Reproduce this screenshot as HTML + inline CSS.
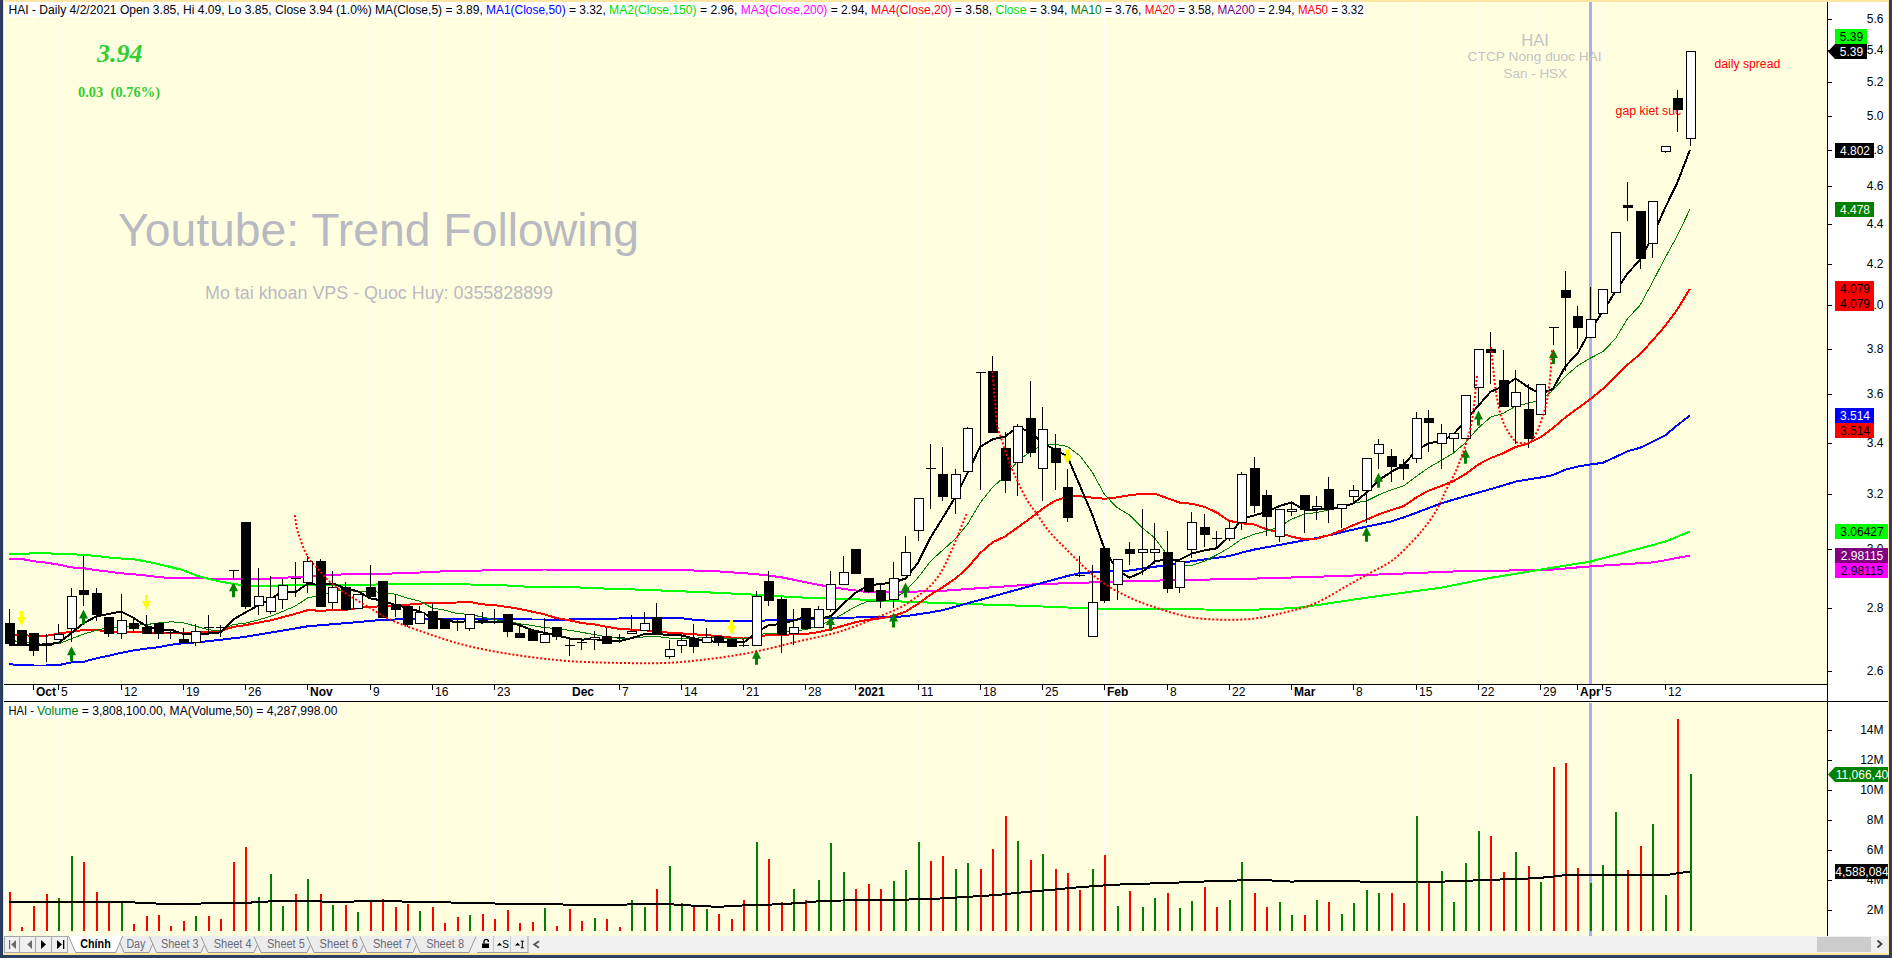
<!DOCTYPE html>
<html><head><meta charset="utf-8"><title>HAI chart</title>
<style>html,body{margin:0;padding:0;width:1892px;height:958px;overflow:hidden;background:#2d3e5f;}</style>
</head><body>
<svg width="1892" height="958" viewBox="0 0 1892 958" style="display:block">
<rect width="1892" height="958" fill="#2d3e5f"/>
<rect x="3" y="0" width="1886" height="955" fill="#ffe7a3"/>
<rect x="4" y="2" width="1824" height="683" fill="#ffffe0"/>
<rect x="4" y="702" width="1824" height="234" fill="#ffffe0"/>
<rect x="1828" y="2" width="60" height="934" fill="#ffffff"/>
<rect x="4" y="2" width="1" height="934" fill="#ffffff"/>
<rect x="2" y="0" width="1" height="958" fill="#22355a"/>
<rect x="4" y="685" width="1824" height="16" fill="#ffffff"/>
<rect x="33" y="2" width="1" height="682" fill="#ffffff"/>
<rect x="33" y="702" width="1" height="234" fill="#ffffff"/>
<line x1="58.5" y1="2" x2="58.5" y2="684" stroke="#ffffff" stroke-width="1" stroke-dasharray="1 1"/>
<line x1="58.5" y1="702" x2="58.5" y2="936" stroke="#ffffff" stroke-width="1" stroke-dasharray="1 1"/>
<line x1="121.5" y1="2" x2="121.5" y2="684" stroke="#ffffff" stroke-width="1" stroke-dasharray="1 1"/>
<line x1="121.5" y1="702" x2="121.5" y2="936" stroke="#ffffff" stroke-width="1" stroke-dasharray="1 1"/>
<line x1="183.5" y1="2" x2="183.5" y2="684" stroke="#ffffff" stroke-width="1" stroke-dasharray="1 1"/>
<line x1="183.5" y1="702" x2="183.5" y2="936" stroke="#ffffff" stroke-width="1" stroke-dasharray="1 1"/>
<line x1="245.5" y1="2" x2="245.5" y2="684" stroke="#ffffff" stroke-width="1" stroke-dasharray="1 1"/>
<line x1="245.5" y1="702" x2="245.5" y2="936" stroke="#ffffff" stroke-width="1" stroke-dasharray="1 1"/>
<rect x="307" y="2" width="1" height="682" fill="#ffffff"/>
<rect x="307" y="702" width="1" height="234" fill="#ffffff"/>
<line x1="370.5" y1="2" x2="370.5" y2="684" stroke="#ffffff" stroke-width="1" stroke-dasharray="1 1"/>
<line x1="370.5" y1="702" x2="370.5" y2="936" stroke="#ffffff" stroke-width="1" stroke-dasharray="1 1"/>
<line x1="432.5" y1="2" x2="432.5" y2="684" stroke="#ffffff" stroke-width="1" stroke-dasharray="1 1"/>
<line x1="432.5" y1="702" x2="432.5" y2="936" stroke="#ffffff" stroke-width="1" stroke-dasharray="1 1"/>
<line x1="494.5" y1="2" x2="494.5" y2="684" stroke="#ffffff" stroke-width="1" stroke-dasharray="1 1"/>
<line x1="494.5" y1="702" x2="494.5" y2="936" stroke="#ffffff" stroke-width="1" stroke-dasharray="1 1"/>
<line x1="556.5" y1="2" x2="556.5" y2="684" stroke="#ffffff" stroke-width="1" stroke-dasharray="1 1"/>
<line x1="556.5" y1="702" x2="556.5" y2="936" stroke="#ffffff" stroke-width="1" stroke-dasharray="1 1"/>
<rect x="569" y="2" width="1" height="682" fill="#ffffff"/>
<rect x="569" y="702" width="1" height="234" fill="#ffffff"/>
<line x1="619.5" y1="2" x2="619.5" y2="684" stroke="#ffffff" stroke-width="1" stroke-dasharray="1 1"/>
<line x1="619.5" y1="702" x2="619.5" y2="936" stroke="#ffffff" stroke-width="1" stroke-dasharray="1 1"/>
<line x1="681.5" y1="2" x2="681.5" y2="684" stroke="#ffffff" stroke-width="1" stroke-dasharray="1 1"/>
<line x1="681.5" y1="702" x2="681.5" y2="936" stroke="#ffffff" stroke-width="1" stroke-dasharray="1 1"/>
<line x1="743.5" y1="2" x2="743.5" y2="684" stroke="#ffffff" stroke-width="1" stroke-dasharray="1 1"/>
<line x1="743.5" y1="702" x2="743.5" y2="936" stroke="#ffffff" stroke-width="1" stroke-dasharray="1 1"/>
<line x1="805.5" y1="2" x2="805.5" y2="684" stroke="#ffffff" stroke-width="1" stroke-dasharray="1 1"/>
<line x1="805.5" y1="702" x2="805.5" y2="936" stroke="#ffffff" stroke-width="1" stroke-dasharray="1 1"/>
<rect x="855" y="2" width="1" height="682" fill="#ffffff"/>
<rect x="855" y="702" width="1" height="234" fill="#ffffff"/>
<line x1="918.5" y1="2" x2="918.5" y2="684" stroke="#ffffff" stroke-width="1" stroke-dasharray="1 1"/>
<line x1="918.5" y1="702" x2="918.5" y2="936" stroke="#ffffff" stroke-width="1" stroke-dasharray="1 1"/>
<line x1="980.5" y1="2" x2="980.5" y2="684" stroke="#ffffff" stroke-width="1" stroke-dasharray="1 1"/>
<line x1="980.5" y1="702" x2="980.5" y2="936" stroke="#ffffff" stroke-width="1" stroke-dasharray="1 1"/>
<line x1="1042.5" y1="2" x2="1042.5" y2="684" stroke="#ffffff" stroke-width="1" stroke-dasharray="1 1"/>
<line x1="1042.5" y1="702" x2="1042.5" y2="936" stroke="#ffffff" stroke-width="1" stroke-dasharray="1 1"/>
<rect x="1104" y="2" width="1" height="682" fill="#ffffff"/>
<rect x="1104" y="702" width="1" height="234" fill="#ffffff"/>
<line x1="1167.5" y1="2" x2="1167.5" y2="684" stroke="#ffffff" stroke-width="1" stroke-dasharray="1 1"/>
<line x1="1167.5" y1="702" x2="1167.5" y2="936" stroke="#ffffff" stroke-width="1" stroke-dasharray="1 1"/>
<line x1="1229.5" y1="2" x2="1229.5" y2="684" stroke="#ffffff" stroke-width="1" stroke-dasharray="1 1"/>
<line x1="1229.5" y1="702" x2="1229.5" y2="936" stroke="#ffffff" stroke-width="1" stroke-dasharray="1 1"/>
<rect x="1291" y="2" width="1" height="682" fill="#ffffff"/>
<rect x="1291" y="702" width="1" height="234" fill="#ffffff"/>
<line x1="1353.5" y1="2" x2="1353.5" y2="684" stroke="#ffffff" stroke-width="1" stroke-dasharray="1 1"/>
<line x1="1353.5" y1="702" x2="1353.5" y2="936" stroke="#ffffff" stroke-width="1" stroke-dasharray="1 1"/>
<line x1="1416.5" y1="2" x2="1416.5" y2="684" stroke="#ffffff" stroke-width="1" stroke-dasharray="1 1"/>
<line x1="1416.5" y1="702" x2="1416.5" y2="936" stroke="#ffffff" stroke-width="1" stroke-dasharray="1 1"/>
<line x1="1478.5" y1="2" x2="1478.5" y2="684" stroke="#ffffff" stroke-width="1" stroke-dasharray="1 1"/>
<line x1="1478.5" y1="702" x2="1478.5" y2="936" stroke="#ffffff" stroke-width="1" stroke-dasharray="1 1"/>
<line x1="1540.5" y1="2" x2="1540.5" y2="684" stroke="#ffffff" stroke-width="1" stroke-dasharray="1 1"/>
<line x1="1540.5" y1="702" x2="1540.5" y2="936" stroke="#ffffff" stroke-width="1" stroke-dasharray="1 1"/>
<rect x="1577" y="2" width="1" height="682" fill="#ffffff"/>
<rect x="1577" y="702" width="1" height="234" fill="#ffffff"/>
<line x1="1602.5" y1="2" x2="1602.5" y2="684" stroke="#ffffff" stroke-width="1" stroke-dasharray="1 1"/>
<line x1="1602.5" y1="702" x2="1602.5" y2="936" stroke="#ffffff" stroke-width="1" stroke-dasharray="1 1"/>
<line x1="1665.5" y1="2" x2="1665.5" y2="684" stroke="#ffffff" stroke-width="1" stroke-dasharray="1 1"/>
<line x1="1665.5" y1="702" x2="1665.5" y2="936" stroke="#ffffff" stroke-width="1" stroke-dasharray="1 1"/>
<rect x="1589" y="2" width="3" height="682" fill="#aaaaff"/>
<rect x="1589" y="703" width="3" height="233" fill="#aaaaff"/>
<text x="118" y="246" font-family="Liberation Sans, sans-serif" font-size="46" fill="#b9b9c1" textLength="521" lengthAdjust="spacingAndGlyphs">Youtube: Trend Following</text>
<text x="205" y="299" font-family="Liberation Sans, sans-serif" font-size="18" fill="#b9b9c1" textLength="348" lengthAdjust="spacingAndGlyphs">Mo tai khoan VPS - Quoc Huy: 0355828899</text>
<text x="1535" y="45.5" font-family="Liberation Sans, sans-serif" font-size="16.5" fill="#c3c3c3" text-anchor="middle">HAI</text>
<text x="1467.6" y="60.7" font-family="Liberation Sans, sans-serif" font-size="12.8" fill="#c3c3c3" textLength="134" lengthAdjust="spacingAndGlyphs">CTCP Nong duoc HAI</text>
<text x="1503.6" y="77.7" font-family="Liberation Sans, sans-serif" font-size="12.8" fill="#c3c3c3" textLength="63.4" lengthAdjust="spacingAndGlyphs">San - HSX</text>
<text x="97" y="62" font-family="Liberation Serif, serif" font-weight="bold" font-style="italic" font-size="25.5" fill="#33cc33" textLength="45.5" lengthAdjust="spacingAndGlyphs">3.94</text>
<text x="78" y="97" font-family="Liberation Serif, serif" font-weight="bold" font-size="14" fill="#33cc33" xml:space="preserve" textLength="82" lengthAdjust="spacingAndGlyphs">0.03  (0.76%)</text>
<text x="1714.5" y="67.7" font-family="Liberation Sans, sans-serif" font-size="12" fill="#ff0000" textLength="65.7" lengthAdjust="spacingAndGlyphs">daily spread</text>
<text x="1615.6" y="114.7" font-family="Liberation Sans, sans-serif" font-size="12" fill="#ff0000" textLength="65.6" lengthAdjust="spacingAndGlyphs">gap kiet suc</text>
<polyline points="8.9,558.9 21.4,558.9 33.8,561.3 46.3,562.7 58.7,564.6 71.2,567.4 83.6,568.2 96.1,570.2 108.5,571.6 121.0,573.3 133.4,574.2 145.9,575.5 158.3,577.0 170.8,578.1 183.2,578.2 195.7,578.3 208.1,578.5 220.6,578.6 233.0,578.8 245.5,578.9 257.9,579.1 270.4,578.5 282.8,577.8 295.3,577.1 307.7,576.4 320.2,575.7 332.7,575.0 345.1,574.3 357.6,574.1 370.0,574.0 382.5,573.8 394.9,573.4 407.4,573.0 419.8,572.5 432.3,571.9 444.7,571.3 457.2,571.0 469.6,570.8 482.1,570.5 494.5,570.3 507.0,570.1 519.4,569.9 531.9,569.7 544.3,569.5 556.8,569.6 569.2,569.7 581.7,569.8 594.1,569.9 606.6,570.0 619.0,570.0 631.5,570.0 643.9,570.0 656.4,570.0 668.9,570.0 681.3,570.0 693.8,570.5 706.2,571.0 718.7,571.4 731.1,572.3 743.6,573.2 756.0,574.1 768.5,575.6 780.9,577.2 793.4,579.7 805.8,582.2 818.3,584.7 830.7,587.1 843.2,588.8 855.6,590.5 868.1,592.2 880.5,592.3 893.0,592.0 905.4,591.7 917.9,591.5 930.3,591.2 942.8,590.8 955.2,589.9 967.7,589.0 980.1,588.1 992.6,587.3 1005.1,586.4 1017.5,585.5 1030.0,584.6 1042.4,584.0 1054.9,583.6 1067.3,583.2 1079.8,582.8 1092.2,582.4 1104.7,582.0 1117.1,581.6 1129.6,581.2 1142.0,580.9 1154.5,580.6 1166.9,580.4 1179.4,580.1 1191.8,579.9 1204.3,579.6 1216.7,579.4 1229.2,579.1 1241.6,578.8 1254.1,578.6 1266.5,578.2 1279.0,577.8 1291.4,577.5 1303.9,577.1 1316.3,576.7 1328.8,576.4 1341.2,576.0 1353.7,575.5 1366.2,575.0 1378.6,574.5 1391.1,574.0 1403.5,573.5 1416.0,573.0 1428.4,572.5 1440.9,572.0 1453.3,571.5 1465.8,571.1 1478.2,570.9 1490.7,570.7 1503.1,570.6 1515.6,570.4 1528.0,570.3 1540.5,570.1 1552.9,569.5 1565.4,568.5 1577.8,567.4 1590.3,566.4 1602.7,565.6 1615.2,564.8 1627.6,564.0 1640.1,563.2 1652.5,562.4 1665.0,560.3 1677.4,557.9 1689.9,555.5" fill="none" stroke="#ff00ff" stroke-width="2" stroke-linejoin="round" shape-rendering="crispEdges" />
<polyline points="8.9,554.1 21.4,554.1 33.8,553.2 46.3,553.2 58.7,554.0 71.2,554.1 83.6,555.0 96.1,555.9 108.5,557.5 121.0,558.5 133.4,559.2 145.9,561.5 158.3,564.0 170.8,567.1 183.2,570.1 195.7,575.3 208.1,578.8 220.6,581.6 233.0,583.9 245.5,585.4 257.9,585.9 270.4,585.7 282.8,585.4 295.3,585.1 307.7,585.0 320.2,584.9 332.7,584.9 345.1,584.8 357.6,584.8 370.0,584.7 382.5,584.3 394.9,584.0 407.4,583.6 419.8,583.8 432.3,583.9 444.7,584.1 457.2,584.3 469.6,584.5 482.1,584.6 494.5,584.9 507.0,585.5 519.4,586.1 531.9,587.2 544.3,587.1 556.8,587.1 569.2,587.0 581.7,587.6 594.1,588.1 606.6,588.6 619.0,589.0 631.5,589.4 643.9,589.8 656.4,590.3 668.9,590.8 681.3,591.3 693.8,591.8 706.2,592.3 718.7,592.9 731.1,593.5 743.6,594.1 756.0,594.8 768.5,595.5 780.9,596.3 793.4,597.1 805.8,597.7 818.3,598.0 830.7,598.4 843.2,598.8 855.6,599.3 868.1,599.9 880.5,600.5 893.0,601.1 905.4,601.7 917.9,602.2 930.3,602.6 942.8,603.1 955.2,603.5 967.7,603.9 980.1,604.4 992.6,604.8 1005.1,605.2 1017.5,605.6 1030.0,606.1 1042.4,606.5 1054.9,607.0 1067.3,607.5 1079.8,608.0 1092.2,608.5 1104.7,608.8 1117.1,608.9 1129.6,609.0 1142.0,609.1 1154.5,609.1 1166.9,609.2 1179.4,609.3 1191.8,609.4 1204.3,609.5 1216.7,609.6 1229.2,609.7 1241.6,609.8 1254.1,609.7 1266.5,609.2 1279.0,608.7 1291.4,608.2 1303.9,607.1 1316.3,605.2 1328.8,603.3 1341.2,601.5 1353.7,599.6 1366.2,597.7 1378.6,596.0 1391.1,594.4 1403.5,592.7 1416.0,591.0 1428.4,589.4 1440.9,587.7 1453.3,585.2 1465.8,582.7 1478.2,580.2 1490.7,577.8 1503.1,575.8 1515.6,573.7 1528.0,571.6 1540.5,569.6 1552.9,567.6 1565.4,565.6 1577.8,563.6 1590.3,561.6 1602.7,558.3 1615.2,555.0 1627.6,551.7 1640.1,548.4 1652.5,545.1 1665.0,541.7 1677.4,536.7 1689.9,531.5" fill="none" stroke="#00ff00" stroke-width="2" stroke-linejoin="round" shape-rendering="crispEdges" />
<polyline points="8.9,664.0 21.4,665.4 33.8,665.5 46.3,665.5 58.7,665.1 71.2,662.4 83.6,661.8 96.1,658.4 108.5,655.8 121.0,652.9 133.4,650.4 145.9,648.6 158.3,647.2 170.8,644.8 183.2,643.2 195.7,642.4 208.1,641.2 220.6,639.8 233.0,638.3 245.5,636.8 257.9,634.7 270.4,632.6 282.8,630.5 295.3,628.4 307.7,626.3 320.2,625.2 332.7,624.2 345.1,623.2 357.6,622.1 370.0,621.0 382.5,619.8 394.9,619.5 407.4,619.4 419.8,619.3 432.3,619.2 444.7,619.1 457.2,619.0 469.6,619.1 482.1,619.2 494.5,619.3 507.0,619.3 519.4,619.4 531.9,619.5 544.3,619.5 556.8,619.5 569.2,619.5 581.7,619.0 594.1,618.8 606.6,618.6 619.0,618.5 631.5,618.3 643.9,618.1 656.4,618.0 668.9,618.0 681.3,618.2 693.8,619.7 706.2,620.6 718.7,620.7 731.1,620.8 743.6,620.9 756.0,620.8 768.5,620.4 780.9,620.1 793.4,619.7 805.8,619.2 818.3,618.5 830.7,617.8 843.2,617.6 855.6,617.5 868.1,617.4 880.5,617.2 893.0,617.1 905.4,616.2 917.9,614.3 930.3,612.4 942.8,610.2 955.2,606.8 967.7,603.3 980.1,599.9 992.6,596.5 1005.1,593.0 1017.5,589.6 1030.0,586.2 1042.4,582.8 1054.9,579.4 1067.3,576.0 1079.8,573.1 1092.2,572.4 1104.7,571.8 1117.1,571.1 1129.6,570.5 1142.0,568.7 1154.5,566.8 1166.9,565.0 1179.4,563.1 1191.8,561.2 1204.3,559.4 1216.7,557.8 1229.2,556.1 1241.6,552.7 1254.1,549.6 1266.5,547.3 1279.0,545.0 1291.4,542.7 1303.9,540.4 1316.3,538.0 1328.8,535.4 1341.2,532.4 1353.7,529.5 1366.2,526.7 1378.6,524.1 1391.1,521.5 1403.5,517.5 1416.0,512.9 1428.4,508.2 1440.9,503.5 1453.3,499.7 1465.8,496.1 1478.2,492.6 1490.7,489.1 1503.1,485.5 1515.6,481.6 1528.0,479.5 1540.5,477.5 1552.9,475.1 1565.4,469.7 1577.8,466.5 1590.3,464.5 1602.7,462.8 1615.2,457.2 1627.6,451.2 1640.1,447.8 1652.5,441.9 1665.0,435.5 1677.4,425.2 1689.9,415.5" fill="none" stroke="#0000ff" stroke-width="2" stroke-linejoin="round" shape-rendering="crispEdges" />
<polyline points="8.9,635.3 21.4,635.4 33.8,635.6 46.3,635.8 58.7,633.6 71.2,631.7 83.6,630.1 96.1,630.0 108.5,631.7 121.0,632.0 133.4,632.3 145.9,632.6 158.3,632.7 170.8,632.7 183.2,632.7 195.7,632.4 208.1,631.9 220.6,631.0 233.0,627.0 245.5,625.1 257.9,622.7 270.4,620.4 282.8,617.2 295.3,613.8 307.7,610.2 320.2,610.7 332.7,610.3 345.1,610.0 357.6,608.1 370.0,606.8 382.5,606.3 394.9,605.1 407.4,604.7 419.8,603.6 432.3,602.9 444.7,602.7 457.2,602.5 469.6,601.8 482.1,604.3 494.5,605.2 507.0,606.9 519.4,608.9 531.9,611.6 544.3,614.3 556.8,618.2 569.2,620.2 581.7,623.0 594.1,624.4 606.6,626.8 619.0,628.9 631.5,629.6 643.9,630.4 656.4,630.9 668.9,632.8 681.3,633.4 693.8,634.3 706.2,635.0 718.7,636.2 731.1,637.5 743.6,638.6 756.0,636.9 768.5,635.0 780.9,634.7 793.4,634.4 805.8,634.0 818.3,632.1 830.7,629.1 843.2,625.8 855.6,622.2 868.1,619.8 880.5,618.3 893.0,616.0 905.4,611.8 917.9,603.9 930.3,594.9 942.8,587.2 955.2,578.8 967.7,567.7 980.1,553.1 992.6,542.3 1005.1,536.4 1017.5,527.6 1030.0,518.6 1042.4,508.8 1054.9,500.9 1067.3,496.7 1079.8,496.3 1092.2,497.6 1104.7,498.8 1117.1,497.4 1129.6,495.2 1142.0,493.9 1154.5,493.7 1166.9,498.0 1179.4,502.5 1191.8,503.8 1204.3,506.8 1216.7,512.5 1229.2,520.9 1241.6,523.2 1254.1,524.5 1266.5,529.3 1279.0,532.3 1291.4,536.7 1303.9,539.2 1316.3,538.6 1328.8,535.3 1341.2,530.5 1353.7,525.0 1366.2,519.9 1378.6,514.4 1391.1,510.2 1403.5,506.2 1416.0,497.7 1428.4,490.7 1440.9,486.2 1453.3,481.2 1465.8,473.9 1478.2,464.6 1490.7,458.1 1503.1,453.2 1515.6,447.0 1528.0,443.6 1540.5,437.4 1552.9,428.1 1565.4,417.4 1577.8,408.3 1590.3,399.1 1602.7,389.0 1615.2,377.2 1627.6,364.6 1640.1,354.2 1652.5,340.6 1665.0,326.1 1677.4,309.4 1689.9,288.8" fill="none" stroke="#ff0000" stroke-width="2" stroke-linejoin="round" shape-rendering="crispEdges" />
<polyline points="8.9,640.0 21.4,641.9 33.8,643.6 46.3,644.4 58.7,643.8 71.2,638.8 83.6,634.1 96.1,630.4 108.5,627.5 121.0,627.0 133.4,625.5 145.9,624.6 158.3,623.0 170.8,621.8 183.2,622.7 195.7,626.2 208.1,629.7 220.6,631.0 233.0,624.6 245.5,623.1 257.9,620.0 270.4,616.3 282.8,611.4 295.3,606.0 307.7,597.9 320.2,595.4 332.7,591.4 345.1,589.5 357.6,591.8 370.0,590.9 382.5,592.9 394.9,594.1 407.4,598.0 419.8,601.3 432.3,608.0 444.7,610.1 457.2,613.7 469.6,614.3 482.1,617.0 494.5,619.7 507.0,621.0 519.4,623.8 531.9,625.4 544.3,627.6 556.8,628.5 569.2,630.3 581.7,632.3 594.1,634.6 606.6,636.7 619.0,638.3 631.5,638.3 643.9,636.9 656.4,636.4 668.9,638.0 681.3,638.3 693.8,638.2 706.2,637.6 718.7,637.9 731.1,638.2 743.6,639.0 756.0,635.5 768.5,633.0 780.9,633.0 793.4,630.8 805.8,629.6 818.3,625.9 830.7,620.6 843.2,613.8 855.6,606.5 868.1,601.1 880.5,601.4 893.0,599.3 905.4,591.1 917.9,577.8 930.3,561.5 942.8,550.1 955.2,538.9 967.7,523.9 980.1,502.9 992.6,487.3 1005.1,476.1 1017.5,461.4 1030.0,451.9 1042.4,445.1 1054.9,444.4 1067.3,446.4 1079.8,455.7 1092.2,472.1 1104.7,494.8 1117.1,507.6 1129.6,514.9 1142.0,527.6 1154.5,537.7 1166.9,554.4 1179.4,564.9 1191.8,565.5 1204.3,561.2 1216.7,554.9 1229.2,547.8 1241.6,539.1 1254.1,534.3 1266.5,531.0 1279.0,527.0 1291.4,519.3 1303.9,514.2 1316.3,512.6 1328.8,510.1 1341.2,506.7 1353.7,502.9 1366.2,501.2 1378.6,494.9 1391.1,489.9 1403.5,485.9 1416.0,476.6 1428.4,467.8 1440.9,460.6 1453.3,453.2 1465.8,442.3 1478.2,428.0 1490.7,417.1 1503.1,413.4 1515.6,406.2 1528.0,403.4 1540.5,399.9 1552.9,390.3 1565.4,376.3 1577.8,365.7 1590.3,358.1 1602.7,351.8 1615.2,339.0 1627.6,318.5 1640.1,305.2 1652.5,282.2 1665.0,258.1 1677.4,235.5 1689.9,209.4" fill="none" stroke="#008000" stroke-width="1" stroke-linejoin="round" shape-rendering="crispEdges" />
<polyline points="8.9,645.4 21.4,645.4 33.8,645.2 46.3,644.5 58.7,642.8 71.2,633.2 83.6,623.3 96.1,616.4 108.5,614.1 121.0,611.5 133.4,617.8 145.9,625.8 158.3,629.6 170.8,629.6 183.2,634.0 195.7,634.6 208.1,633.5 220.6,632.4 233.0,619.7 245.5,612.4 257.9,605.6 270.4,599.4 282.8,590.9 295.3,592.4 307.7,583.5 320.2,585.3 332.7,583.5 345.1,588.2 357.6,591.2 370.0,598.3 382.5,600.6 394.9,604.9 407.4,607.8 419.8,611.5 432.3,617.8 444.7,619.8 457.2,622.5 469.6,620.7 482.1,622.6 494.5,621.7 507.0,622.3 519.4,625.1 531.9,630.1 544.3,632.7 556.8,635.3 569.2,638.4 581.7,639.6 594.1,639.0 606.6,640.9 619.0,641.2 631.5,638.1 643.9,634.3 656.4,633.8 668.9,635.1 681.3,635.4 693.8,638.3 706.2,641.0 718.7,642.0 731.1,641.3 743.6,642.6 756.0,632.6 768.5,625.2 780.9,624.0 793.4,620.5 805.8,616.9 818.3,619.3 830.7,616.1 843.2,603.8 855.6,592.8 868.1,585.6 880.5,583.9 893.0,582.7 905.4,578.6 917.9,563.0 930.3,538.0 942.8,517.7 955.2,497.3 967.7,472.5 980.1,446.8 992.6,439.4 1005.1,436.4 1017.5,427.0 1030.0,431.7 1042.4,443.4 1054.9,449.4 1067.3,456.4 1079.8,485.3 1092.2,514.6 1104.7,549.6 1117.1,570.1 1129.6,577.6 1142.0,572.2 1154.5,561.6 1166.9,559.3 1179.4,559.8 1191.8,553.5 1204.3,550.4 1216.7,548.3 1229.2,536.5 1241.6,518.8 1254.1,515.4 1266.5,512.0 1279.0,506.2 1291.4,502.4 1303.9,509.6 1316.3,509.7 1328.8,508.2 1341.2,507.2 1353.7,503.3 1366.2,492.9 1378.6,480.3 1391.1,472.0 1403.5,465.0 1416.0,450.7 1428.4,443.3 1440.9,441.2 1453.3,434.7 1465.8,420.1 1478.2,405.8 1490.7,391.6 1503.1,386.5 1515.6,378.5 1528.0,387.0 1540.5,394.0 1552.9,388.9 1565.4,366.3 1577.8,353.1 1590.3,330.2 1602.7,311.5 1615.2,291.9 1627.6,273.3 1640.1,259.9 1652.5,236.7 1665.0,207.9 1677.4,182.6 1689.9,150.0" fill="none" stroke="#000000" stroke-width="2" stroke-linejoin="round" shape-rendering="crispEdges" />
<path d="M71.5,646.2 L76.0,655.2 L73.0,655.2 L73.0,661.2 L70.0,661.2 L70.0,655.2 L67.0,655.2 Z" fill="#008000"/>
<path d="M83.5,609.5 L88.0,618.5 L85.0,618.5 L85.0,624.5 L82.0,624.5 L82.0,618.5 L79.0,618.5 Z" fill="#008000"/>
<path d="M233.5,582.3 L238.0,591.3 L235.0,591.3 L235.0,597.3 L232.0,597.3 L232.0,591.3 L229.0,591.3 Z" fill="#008000"/>
<path d="M756.5,649.8 L761.0,658.8 L758.0,658.8 L758.0,664.8 L755.0,664.8 L755.0,658.8 L752.0,658.8 Z" fill="#008000"/>
<path d="M830.5,615.9 L835.0,624.9 L832.0,624.9 L832.0,630.9 L829.0,630.9 L829.0,624.9 L826.0,624.9 Z" fill="#008000"/>
<path d="M893.5,612.5 L898.0,621.5 L895.0,621.5 L895.0,627.5 L892.0,627.5 L892.0,621.5 L889.0,621.5 Z" fill="#008000"/>
<path d="M905.5,582.6 L910.0,591.6 L907.0,591.6 L907.0,597.6 L904.0,597.6 L904.0,591.6 L901.0,591.6 Z" fill="#008000"/>
<path d="M1366.5,526.7 L1371.0,535.7 L1368.0,535.7 L1368.0,541.7 L1365.0,541.7 L1365.0,535.7 L1362.0,535.7 Z" fill="#008000"/>
<path d="M1378.5,472.7 L1383.0,481.7 L1380.0,481.7 L1380.0,487.7 L1377.0,487.7 L1377.0,481.7 L1374.0,481.7 Z" fill="#008000"/>
<path d="M1465.5,448.7 L1470.0,457.7 L1467.0,457.7 L1467.0,463.7 L1464.0,463.7 L1464.0,457.7 L1461.0,457.7 Z" fill="#008000"/>
<path d="M1478.5,410.4 L1483.0,419.4 L1480.0,419.4 L1480.0,425.4 L1477.0,425.4 L1477.0,419.4 L1474.0,419.4 Z" fill="#008000"/>
<path d="M1553.5,349 L1558.0,358 L1555.0,358 L1555.0,364 L1552.0,364 L1552.0,358 L1549.0,358 Z" fill="#008000"/>
<path d="M21.5,626 L26.0,617 L23.0,617 L23.0,611 L20.0,611 L20.0,617 L17.0,617 Z" fill="#ffff00"/>
<path d="M146.5,610 L151.0,601 L148.0,601 L148.0,595 L145.0,595 L145.0,601 L142.0,601 Z" fill="#ffff00"/>
<path d="M731.5,635 L736.0,626 L733.0,626 L733.0,620 L730.0,620 L730.0,626 L727.0,626 Z" fill="#ffff00"/>
<path d="M1067.5,464.6 L1072.0,455.6 L1069.0,455.6 L1069.0,449.6 L1066.0,449.6 L1066.0,455.6 L1063.0,455.6 Z" fill="#ffff00"/>
<rect x="9" y="609" width="1" height="35" fill="#000"/>
<rect x="5" y="623" width="10" height="21" fill="#000"/>
<rect x="21" y="630" width="1" height="16" fill="#000"/>
<rect x="17" y="630" width="10" height="14" fill="#000"/>
<rect x="33" y="633" width="1" height="23" fill="#000"/>
<rect x="29" y="633" width="10" height="18" fill="#000"/>
<rect x="46" y="634" width="1" height="28" fill="#000"/>
<rect x="42" y="643" width="10" height="3" fill="#000"/>
<rect x="58" y="624" width="1" height="16" fill="#000"/>
<rect x="54" y="634" width="10" height="6" fill="#000"/>
<rect x="55" y="635" width="8" height="4" fill="#fff"/>
<rect x="71" y="588" width="1" height="54" fill="#000"/>
<rect x="67" y="596" width="10" height="33" fill="#000"/>
<rect x="68" y="597" width="8" height="31" fill="#fff"/>
<rect x="83" y="556" width="1" height="50" fill="#000"/>
<rect x="79" y="590" width="10" height="5" fill="#000"/>
<rect x="96" y="588" width="1" height="33" fill="#000"/>
<rect x="92" y="593" width="10" height="22" fill="#000"/>
<rect x="108" y="617" width="1" height="20" fill="#000"/>
<rect x="104" y="617" width="10" height="17" fill="#000"/>
<rect x="121" y="594" width="1" height="45" fill="#000"/>
<rect x="117" y="620" width="10" height="14" fill="#000"/>
<rect x="118" y="621" width="8" height="12" fill="#fff"/>
<rect x="133" y="619" width="1" height="14" fill="#000"/>
<rect x="129" y="623" width="10" height="6" fill="#000"/>
<rect x="146" y="615" width="1" height="19" fill="#000"/>
<rect x="142" y="627" width="10" height="7" fill="#000"/>
<rect x="158" y="623" width="1" height="16" fill="#000"/>
<rect x="154" y="623" width="10" height="11" fill="#000"/>
<rect x="170" y="630" width="1" height="9" fill="#000"/>
<rect x="166" y="632" width="10" height="1" fill="#000"/>
<rect x="183" y="628" width="1" height="15" fill="#000"/>
<rect x="179" y="639" width="10" height="4" fill="#000"/>
<rect x="195" y="624" width="1" height="22" fill="#000"/>
<rect x="191" y="631" width="10" height="12" fill="#000"/>
<rect x="192" y="632" width="8" height="10" fill="#fff"/>
<rect x="208" y="615" width="1" height="20" fill="#000"/>
<rect x="204" y="627" width="10" height="1" fill="#000"/>
<rect x="220" y="625" width="1" height="12" fill="#000"/>
<rect x="216" y="627" width="10" height="1" fill="#000"/>
<rect x="233" y="570" width="1" height="9" fill="#000"/>
<rect x="229" y="570" width="10" height="1" fill="#000"/>
<rect x="245" y="522" width="1" height="87" fill="#000"/>
<rect x="241" y="522" width="10" height="85" fill="#000"/>
<rect x="258" y="568" width="1" height="47" fill="#000"/>
<rect x="254" y="596" width="10" height="10" fill="#000"/>
<rect x="255" y="597" width="8" height="8" fill="#fff"/>
<rect x="270" y="576" width="1" height="38" fill="#000"/>
<rect x="266" y="597" width="10" height="15" fill="#000"/>
<rect x="267" y="598" width="8" height="13" fill="#fff"/>
<rect x="282" y="579" width="1" height="30" fill="#000"/>
<rect x="278" y="585" width="10" height="15" fill="#000"/>
<rect x="279" y="586" width="8" height="13" fill="#fff"/>
<rect x="295" y="562" width="1" height="35" fill="#000"/>
<rect x="291" y="578" width="10" height="1" fill="#000"/>
<rect x="307" y="556" width="1" height="37" fill="#000"/>
<rect x="303" y="561" width="10" height="22" fill="#000"/>
<rect x="304" y="562" width="8" height="20" fill="#fff"/>
<rect x="320" y="559" width="1" height="48" fill="#000"/>
<rect x="316" y="561" width="10" height="46" fill="#000"/>
<rect x="332" y="571" width="1" height="38" fill="#000"/>
<rect x="328" y="587" width="10" height="16" fill="#000"/>
<rect x="329" y="588" width="8" height="14" fill="#fff"/>
<rect x="345" y="582" width="1" height="28" fill="#000"/>
<rect x="341" y="587" width="10" height="23" fill="#000"/>
<rect x="357" y="594" width="1" height="15" fill="#000"/>
<rect x="353" y="594" width="10" height="15" fill="#000"/>
<rect x="354" y="595" width="8" height="13" fill="#fff"/>
<rect x="370" y="565" width="1" height="32" fill="#000"/>
<rect x="366" y="587" width="10" height="10" fill="#000"/>
<rect x="382" y="581" width="1" height="37" fill="#000"/>
<rect x="378" y="581" width="10" height="37" fill="#000"/>
<rect x="395" y="594" width="1" height="23" fill="#000"/>
<rect x="391" y="604" width="10" height="6" fill="#000"/>
<rect x="407" y="606" width="1" height="21" fill="#000"/>
<rect x="403" y="606" width="10" height="19" fill="#000"/>
<rect x="419" y="606" width="1" height="18" fill="#000"/>
<rect x="415" y="612" width="10" height="12" fill="#000"/>
<rect x="416" y="613" width="8" height="10" fill="#fff"/>
<rect x="432" y="603" width="1" height="26" fill="#000"/>
<rect x="428" y="611" width="10" height="18" fill="#000"/>
<rect x="444" y="619" width="1" height="10" fill="#000"/>
<rect x="440" y="619" width="10" height="10" fill="#000"/>
<rect x="457" y="619" width="1" height="12" fill="#000"/>
<rect x="453" y="622" width="10" height="1" fill="#000"/>
<rect x="469" y="614" width="1" height="17" fill="#000"/>
<rect x="465" y="614" width="10" height="15" fill="#000"/>
<rect x="466" y="615" width="8" height="13" fill="#fff"/>
<rect x="482" y="612" width="1" height="11" fill="#000"/>
<rect x="478" y="620" width="10" height="1" fill="#000"/>
<rect x="494" y="609" width="1" height="15" fill="#000"/>
<rect x="490" y="622" width="10" height="1" fill="#000"/>
<rect x="507" y="614" width="1" height="23" fill="#000"/>
<rect x="503" y="614" width="10" height="18" fill="#000"/>
<rect x="519" y="626" width="1" height="12" fill="#000"/>
<rect x="515" y="633" width="10" height="5" fill="#000"/>
<rect x="532" y="630" width="1" height="11" fill="#000"/>
<rect x="528" y="630" width="10" height="11" fill="#000"/>
<rect x="544" y="618" width="1" height="25" fill="#000"/>
<rect x="540" y="634" width="10" height="9" fill="#000"/>
<rect x="541" y="635" width="8" height="7" fill="#fff"/>
<rect x="556" y="627" width="1" height="13" fill="#000"/>
<rect x="552" y="627" width="10" height="10" fill="#000"/>
<rect x="569" y="639" width="1" height="17" fill="#000"/>
<rect x="565" y="645" width="10" height="1" fill="#000"/>
<rect x="581" y="638" width="1" height="12" fill="#000"/>
<rect x="577" y="642" width="10" height="1" fill="#000"/>
<rect x="594" y="631" width="1" height="19" fill="#000"/>
<rect x="590" y="637" width="10" height="3" fill="#000"/>
<rect x="591" y="638" width="8" height="1" fill="#fff"/>
<rect x="606" y="628" width="1" height="16" fill="#000"/>
<rect x="602" y="636" width="10" height="8" fill="#000"/>
<rect x="619" y="634" width="1" height="9" fill="#000"/>
<rect x="615" y="637" width="10" height="1" fill="#000"/>
<rect x="631" y="615" width="1" height="19" fill="#000"/>
<rect x="627" y="631" width="10" height="3" fill="#000"/>
<rect x="628" y="632" width="8" height="1" fill="#fff"/>
<rect x="644" y="612" width="1" height="19" fill="#000"/>
<rect x="640" y="623" width="10" height="8" fill="#000"/>
<rect x="641" y="624" width="8" height="6" fill="#fff"/>
<rect x="656" y="603" width="1" height="32" fill="#000"/>
<rect x="652" y="617" width="10" height="18" fill="#000"/>
<rect x="669" y="640" width="1" height="19" fill="#000"/>
<rect x="665" y="649" width="10" height="8" fill="#000"/>
<rect x="666" y="650" width="8" height="6" fill="#fff"/>
<rect x="681" y="636" width="1" height="17" fill="#000"/>
<rect x="677" y="640" width="10" height="6" fill="#000"/>
<rect x="678" y="641" width="8" height="4" fill="#fff"/>
<rect x="693" y="624" width="1" height="29" fill="#000"/>
<rect x="689" y="638" width="10" height="9" fill="#000"/>
<rect x="706" y="628" width="1" height="15" fill="#000"/>
<rect x="702" y="637" width="10" height="6" fill="#000"/>
<rect x="703" y="638" width="8" height="4" fill="#fff"/>
<rect x="718" y="636" width="1" height="10" fill="#000"/>
<rect x="714" y="636" width="10" height="5" fill="#000"/>
<rect x="731" y="639" width="1" height="8" fill="#000"/>
<rect x="727" y="639" width="10" height="8" fill="#000"/>
<rect x="743" y="638" width="1" height="9" fill="#000"/>
<rect x="739" y="645" width="10" height="1" fill="#000"/>
<rect x="756" y="591" width="1" height="55" fill="#000"/>
<rect x="752" y="596" width="10" height="50" fill="#000"/>
<rect x="753" y="597" width="8" height="48" fill="#fff"/>
<rect x="768" y="571" width="1" height="35" fill="#000"/>
<rect x="764" y="581" width="10" height="20" fill="#000"/>
<rect x="781" y="597" width="1" height="56" fill="#000"/>
<rect x="777" y="599" width="10" height="36" fill="#000"/>
<rect x="793" y="609" width="1" height="36" fill="#000"/>
<rect x="789" y="627" width="10" height="7" fill="#000"/>
<rect x="790" y="628" width="8" height="5" fill="#fff"/>
<rect x="805" y="608" width="1" height="22" fill="#000"/>
<rect x="801" y="608" width="10" height="21" fill="#000"/>
<rect x="818" y="606" width="1" height="22" fill="#000"/>
<rect x="814" y="609" width="10" height="19" fill="#000"/>
<rect x="815" y="610" width="8" height="17" fill="#fff"/>
<rect x="830" y="571" width="1" height="41" fill="#000"/>
<rect x="826" y="584" width="10" height="26" fill="#000"/>
<rect x="827" y="585" width="8" height="24" fill="#fff"/>
<rect x="843" y="556" width="1" height="29" fill="#000"/>
<rect x="839" y="572" width="10" height="13" fill="#000"/>
<rect x="840" y="573" width="8" height="11" fill="#fff"/>
<rect x="855" y="549" width="1" height="25" fill="#000"/>
<rect x="851" y="549" width="10" height="25" fill="#000"/>
<rect x="868" y="578" width="1" height="15" fill="#000"/>
<rect x="864" y="578" width="10" height="14" fill="#000"/>
<rect x="880" y="585" width="1" height="23" fill="#000"/>
<rect x="876" y="590" width="10" height="11" fill="#000"/>
<rect x="893" y="562" width="1" height="46" fill="#000"/>
<rect x="889" y="578" width="10" height="22" fill="#000"/>
<rect x="890" y="579" width="8" height="20" fill="#fff"/>
<rect x="905" y="536" width="1" height="40" fill="#000"/>
<rect x="901" y="552" width="10" height="24" fill="#000"/>
<rect x="902" y="553" width="8" height="22" fill="#fff"/>
<rect x="918" y="498" width="1" height="43" fill="#000"/>
<rect x="914" y="498" width="10" height="33" fill="#000"/>
<rect x="915" y="499" width="8" height="31" fill="#fff"/>
<rect x="930" y="444" width="1" height="65" fill="#000"/>
<rect x="926" y="468" width="10" height="1" fill="#000"/>
<rect x="942" y="447" width="1" height="54" fill="#000"/>
<rect x="938" y="474" width="10" height="23" fill="#000"/>
<rect x="955" y="469" width="1" height="45" fill="#000"/>
<rect x="951" y="474" width="10" height="25" fill="#000"/>
<rect x="952" y="475" width="8" height="23" fill="#fff"/>
<rect x="967" y="427" width="1" height="45" fill="#000"/>
<rect x="963" y="428" width="10" height="44" fill="#000"/>
<rect x="964" y="429" width="8" height="42" fill="#fff"/>
<rect x="980" y="372" width="1" height="118" fill="#000"/>
<rect x="976" y="372" width="10" height="1" fill="#000"/>
<rect x="992" y="356" width="1" height="77" fill="#000"/>
<rect x="988" y="371" width="10" height="62" fill="#000"/>
<rect x="1005" y="432" width="1" height="61" fill="#000"/>
<rect x="1001" y="448" width="10" height="33" fill="#000"/>
<rect x="1017" y="424" width="1" height="72" fill="#000"/>
<rect x="1013" y="426" width="10" height="37" fill="#000"/>
<rect x="1014" y="427" width="8" height="35" fill="#fff"/>
<rect x="1030" y="381" width="1" height="76" fill="#000"/>
<rect x="1026" y="418" width="10" height="35" fill="#000"/>
<rect x="1042" y="407" width="1" height="94" fill="#000"/>
<rect x="1038" y="429" width="10" height="40" fill="#000"/>
<rect x="1039" y="430" width="8" height="38" fill="#fff"/>
<rect x="1055" y="434" width="1" height="56" fill="#000"/>
<rect x="1051" y="448" width="10" height="15" fill="#000"/>
<rect x="1067" y="469" width="1" height="53" fill="#000"/>
<rect x="1063" y="487" width="10" height="31" fill="#000"/>
<rect x="1079" y="556" width="1" height="21" fill="#000"/>
<rect x="1075" y="575" width="10" height="1" fill="#000"/>
<rect x="1092" y="565" width="1" height="72" fill="#000"/>
<rect x="1088" y="602" width="10" height="35" fill="#000"/>
<rect x="1089" y="603" width="8" height="33" fill="#fff"/>
<rect x="1104" y="548" width="1" height="55" fill="#000"/>
<rect x="1100" y="548" width="10" height="53" fill="#000"/>
<rect x="1117" y="559" width="1" height="41" fill="#000"/>
<rect x="1113" y="559" width="10" height="26" fill="#000"/>
<rect x="1114" y="560" width="8" height="24" fill="#fff"/>
<rect x="1129" y="542" width="1" height="23" fill="#000"/>
<rect x="1125" y="549" width="10" height="5" fill="#000"/>
<rect x="1142" y="509" width="1" height="66" fill="#000"/>
<rect x="1138" y="549" width="10" height="4" fill="#000"/>
<rect x="1139" y="550" width="8" height="2" fill="#fff"/>
<rect x="1154" y="523" width="1" height="41" fill="#000"/>
<rect x="1150" y="549" width="10" height="4" fill="#000"/>
<rect x="1151" y="550" width="8" height="2" fill="#fff"/>
<rect x="1167" y="531" width="1" height="62" fill="#000"/>
<rect x="1163" y="552" width="10" height="37" fill="#000"/>
<rect x="1179" y="561" width="1" height="32" fill="#000"/>
<rect x="1175" y="561" width="10" height="27" fill="#000"/>
<rect x="1176" y="562" width="8" height="25" fill="#fff"/>
<rect x="1191" y="512" width="1" height="46" fill="#000"/>
<rect x="1187" y="522" width="10" height="28" fill="#000"/>
<rect x="1188" y="523" width="8" height="26" fill="#fff"/>
<rect x="1204" y="514" width="1" height="33" fill="#000"/>
<rect x="1200" y="527" width="10" height="8" fill="#000"/>
<rect x="1216" y="531" width="1" height="16" fill="#000"/>
<rect x="1212" y="538" width="10" height="1" fill="#000"/>
<rect x="1229" y="520" width="1" height="21" fill="#000"/>
<rect x="1225" y="528" width="10" height="11" fill="#000"/>
<rect x="1226" y="529" width="8" height="9" fill="#fff"/>
<rect x="1241" y="472" width="1" height="58" fill="#000"/>
<rect x="1237" y="474" width="10" height="49" fill="#000"/>
<rect x="1238" y="475" width="8" height="47" fill="#fff"/>
<rect x="1254" y="457" width="1" height="56" fill="#000"/>
<rect x="1250" y="468" width="10" height="38" fill="#000"/>
<rect x="1266" y="490" width="1" height="46" fill="#000"/>
<rect x="1262" y="495" width="10" height="22" fill="#000"/>
<rect x="1279" y="509" width="1" height="33" fill="#000"/>
<rect x="1275" y="509" width="10" height="28" fill="#000"/>
<rect x="1276" y="510" width="8" height="26" fill="#fff"/>
<rect x="1291" y="501" width="1" height="15" fill="#000"/>
<rect x="1287" y="509" width="10" height="3" fill="#000"/>
<rect x="1288" y="510" width="8" height="1" fill="#fff"/>
<rect x="1304" y="495" width="1" height="38" fill="#000"/>
<rect x="1300" y="495" width="10" height="15" fill="#000"/>
<rect x="1316" y="496" width="1" height="24" fill="#000"/>
<rect x="1312" y="506" width="10" height="3" fill="#000"/>
<rect x="1313" y="507" width="8" height="1" fill="#fff"/>
<rect x="1328" y="477" width="1" height="46" fill="#000"/>
<rect x="1324" y="489" width="10" height="21" fill="#000"/>
<rect x="1341" y="504" width="1" height="24" fill="#000"/>
<rect x="1337" y="504" width="10" height="5" fill="#000"/>
<rect x="1338" y="505" width="8" height="3" fill="#fff"/>
<rect x="1353" y="485" width="1" height="18" fill="#000"/>
<rect x="1349" y="490" width="10" height="7" fill="#000"/>
<rect x="1350" y="491" width="8" height="5" fill="#fff"/>
<rect x="1366" y="458" width="1" height="65" fill="#000"/>
<rect x="1362" y="458" width="10" height="33" fill="#000"/>
<rect x="1363" y="459" width="8" height="31" fill="#fff"/>
<rect x="1378" y="439" width="1" height="30" fill="#000"/>
<rect x="1374" y="444" width="10" height="10" fill="#000"/>
<rect x="1375" y="445" width="8" height="8" fill="#fff"/>
<rect x="1391" y="449" width="1" height="33" fill="#000"/>
<rect x="1387" y="456" width="10" height="11" fill="#000"/>
<rect x="1403" y="459" width="1" height="21" fill="#000"/>
<rect x="1399" y="464" width="10" height="5" fill="#000"/>
<rect x="1416" y="412" width="1" height="51" fill="#000"/>
<rect x="1412" y="418" width="10" height="41" fill="#000"/>
<rect x="1413" y="419" width="8" height="39" fill="#fff"/>
<rect x="1428" y="410" width="1" height="42" fill="#000"/>
<rect x="1424" y="418" width="10" height="5" fill="#000"/>
<rect x="1441" y="424" width="1" height="45" fill="#000"/>
<rect x="1437" y="433" width="10" height="11" fill="#000"/>
<rect x="1438" y="434" width="8" height="9" fill="#fff"/>
<rect x="1453" y="433" width="1" height="19" fill="#000"/>
<rect x="1449" y="433" width="10" height="6" fill="#000"/>
<rect x="1450" y="434" width="8" height="4" fill="#fff"/>
<rect x="1465" y="395" width="1" height="44" fill="#000"/>
<rect x="1461" y="395" width="10" height="44" fill="#000"/>
<rect x="1462" y="396" width="8" height="42" fill="#fff"/>
<rect x="1478" y="349" width="1" height="56" fill="#000"/>
<rect x="1474" y="349" width="10" height="39" fill="#000"/>
<rect x="1475" y="350" width="8" height="37" fill="#fff"/>
<rect x="1490" y="332" width="1" height="52" fill="#000"/>
<rect x="1486" y="349" width="10" height="4" fill="#000"/>
<rect x="1503" y="350" width="1" height="57" fill="#000"/>
<rect x="1499" y="380" width="10" height="27" fill="#000"/>
<rect x="1515" y="370" width="1" height="74" fill="#000"/>
<rect x="1511" y="392" width="10" height="15" fill="#000"/>
<rect x="1512" y="393" width="8" height="13" fill="#fff"/>
<rect x="1528" y="384" width="1" height="64" fill="#000"/>
<rect x="1524" y="409" width="10" height="30" fill="#000"/>
<rect x="1540" y="384" width="1" height="31" fill="#000"/>
<rect x="1536" y="384" width="10" height="31" fill="#000"/>
<rect x="1537" y="385" width="8" height="29" fill="#fff"/>
<rect x="1553" y="327" width="1" height="18" fill="#000"/>
<rect x="1549" y="327" width="10" height="1" fill="#000"/>
<rect x="1565" y="271" width="1" height="100" fill="#000"/>
<rect x="1561" y="290" width="10" height="8" fill="#000"/>
<rect x="1577" y="306" width="1" height="43" fill="#000"/>
<rect x="1573" y="316" width="10" height="12" fill="#000"/>
<rect x="1590" y="287" width="1" height="51" fill="#000"/>
<rect x="1586" y="319" width="10" height="19" fill="#000"/>
<rect x="1587" y="320" width="8" height="17" fill="#fff"/>
<rect x="1602" y="289" width="1" height="25" fill="#000"/>
<rect x="1598" y="289" width="10" height="25" fill="#000"/>
<rect x="1599" y="290" width="8" height="23" fill="#fff"/>
<rect x="1615" y="232" width="1" height="61" fill="#000"/>
<rect x="1611" y="232" width="10" height="61" fill="#000"/>
<rect x="1612" y="233" width="8" height="59" fill="#fff"/>
<rect x="1627" y="182" width="1" height="39" fill="#000"/>
<rect x="1623" y="205" width="10" height="3" fill="#000"/>
<rect x="1640" y="211" width="1" height="58" fill="#000"/>
<rect x="1636" y="211" width="10" height="48" fill="#000"/>
<rect x="1652" y="201" width="1" height="57" fill="#000"/>
<rect x="1648" y="201" width="10" height="43" fill="#000"/>
<rect x="1649" y="202" width="8" height="41" fill="#fff"/>
<rect x="1665" y="146" width="1" height="7" fill="#000"/>
<rect x="1661" y="146" width="10" height="6" fill="#000"/>
<rect x="1662" y="147" width="8" height="4" fill="#fff"/>
<rect x="1677" y="90" width="1" height="42" fill="#000"/>
<rect x="1673" y="98" width="10" height="12" fill="#000"/>
<rect x="1690" y="51" width="1" height="95" fill="#000"/>
<rect x="1686" y="51" width="10" height="88" fill="#000"/>
<rect x="1687" y="52" width="8" height="86" fill="#fff"/>
<path d="M294.9,515.2 C295.2,517.5 296.1,525.1 297.0,529.0 C297.9,532.9 298.9,534.9 300.1,538.4 C301.3,541.9 302.7,546.3 304.3,549.9 C305.9,553.5 308.0,556.9 310.0,559.8 C312.0,562.7 313.9,564.4 316.3,567.1 C318.7,569.8 321.3,573.0 324.1,576.0 C326.9,579.0 329.9,582.2 333.0,584.8 C336.1,587.4 336.7,587.7 342.9,591.6 C349.1,595.5 361.6,603.1 370.0,608.0 C378.4,612.9 383.4,616.5 393.0,620.8 C402.6,625.0 415.9,629.6 427.4,633.5 C438.9,637.4 450.3,641.4 461.8,644.4 C473.3,647.4 484.8,649.7 496.3,651.8 C507.8,653.9 518.8,655.5 530.7,657.0 C542.6,658.5 553.9,660.0 567.5,661.0 C581.1,662.0 596.3,662.5 612.4,662.8 C628.5,663.1 648.7,663.5 664.0,663.0 C679.3,662.5 689.9,661.3 704.3,659.6 C718.7,657.9 734.2,655.8 750.2,652.7 C766.2,649.6 785.0,644.5 800.0,641.0 C815.0,637.5 826.7,635.6 840.0,631.5 C853.3,627.4 868.3,621.2 880.0,616.2 C891.7,611.2 900.0,608.7 910.0,601.6 C920.0,594.5 930.6,588.4 940.0,573.8 C949.4,559.2 962.2,523.8 966.6,513.8" fill="none" stroke="#ff0000" stroke-width="2" stroke-dasharray="2 2"/>
<path d="M992.4,371.6 C992.7,374.7 993.5,384.1 994.0,390.0 C994.5,395.9 995.0,401.1 995.5,407.0 C996.0,412.9 996.2,420.1 997.1,425.2 C998.0,430.3 998.7,430.8 1000.9,437.4 C1003.1,444.0 1007.5,457.3 1010.3,464.7 C1013.1,472.1 1015.0,475.7 1017.8,481.6 C1020.6,487.6 1024.1,495.1 1027.2,500.4 C1030.3,505.7 1033.1,508.6 1036.6,513.5 C1040.0,518.4 1043.1,524.2 1047.9,530.0 C1052.7,535.8 1057.2,540.3 1065.3,548.3 C1073.4,556.3 1086.1,569.9 1096.6,578.0 C1107.0,586.1 1117.6,591.7 1128.0,596.8 C1138.4,601.9 1148.8,605.3 1159.2,608.7 C1169.6,612.1 1180.0,615.4 1190.5,617.2 C1201.0,619.0 1211.5,619.5 1221.9,619.7 C1232.4,620.0 1242.8,619.9 1253.2,618.7 C1263.6,617.5 1274.1,615.1 1284.5,612.5 C1294.9,609.9 1305.4,607.6 1315.8,603.1 C1326.2,598.6 1338.1,590.8 1347.1,585.8 C1356.1,580.8 1362.4,577.3 1370.0,573.0 C1377.6,568.7 1385.4,565.7 1392.9,560.0 C1400.4,554.3 1409.0,545.0 1414.9,538.7 C1420.9,532.4 1424.7,527.5 1428.6,522.2 C1432.5,516.9 1435.5,512.1 1438.2,507.1 C1441.0,502.1 1442.8,496.7 1445.1,492.0 C1447.4,487.3 1449.8,483.3 1452.0,479.0 C1454.2,474.7 1455.7,471.9 1458.0,466.0 C1460.3,460.1 1463.7,451.3 1466.1,443.4 C1468.5,435.4 1470.6,429.8 1472.4,418.3 C1474.2,406.8 1476.3,381.8 1477.1,374.5" fill="none" stroke="#ff0000" stroke-width="2" stroke-dasharray="2 2"/>
<path d="M1491.0,347.0 C1491.8,354.3 1494.0,378.6 1495.8,390.6 C1497.6,402.6 1499.1,410.9 1502.0,419.0 C1504.9,427.1 1509.7,434.9 1513.0,438.9 C1516.3,442.9 1518.7,443.2 1522.0,443.2 C1525.3,443.2 1529.3,444.0 1533.0,438.9 C1536.7,433.8 1541.2,421.6 1544.0,412.5 C1546.8,403.4 1548.2,394.6 1549.5,384.0 C1550.8,373.4 1551.6,354.8 1552.0,349.0" fill="none" stroke="#ff0000" stroke-width="2" stroke-dasharray="2 2"/>
<rect x="9" y="892" width="2" height="39" fill="#ff0000"/>
<rect x="21" y="927" width="2" height="4" fill="#ff0000"/>
<rect x="33" y="906" width="2" height="25" fill="#ff0000"/>
<rect x="46" y="894" width="2" height="37" fill="#ff0000"/>
<rect x="58" y="898" width="2" height="33" fill="#008000"/>
<rect x="71" y="856" width="2" height="75" fill="#008000"/>
<rect x="83" y="862" width="2" height="69" fill="#ff0000"/>
<rect x="96" y="892" width="2" height="39" fill="#ff0000"/>
<rect x="108" y="902" width="2" height="29" fill="#ff0000"/>
<rect x="121" y="901" width="2" height="30" fill="#008000"/>
<rect x="133" y="924" width="2" height="7" fill="#ff0000"/>
<rect x="146" y="916" width="2" height="15" fill="#ff0000"/>
<rect x="158" y="915" width="2" height="16" fill="#ff0000"/>
<rect x="170" y="926" width="2" height="5" fill="#ff0000"/>
<rect x="183" y="921" width="2" height="10" fill="#ff0000"/>
<rect x="195" y="916" width="2" height="15" fill="#008000"/>
<rect x="208" y="916" width="2" height="15" fill="#ff0000"/>
<rect x="220" y="919" width="2" height="12" fill="#ff0000"/>
<rect x="233" y="862" width="2" height="69" fill="#ff0000"/>
<rect x="245" y="847" width="2" height="84" fill="#ff0000"/>
<rect x="258" y="897" width="2" height="34" fill="#008000"/>
<rect x="270" y="874" width="2" height="57" fill="#008000"/>
<rect x="282" y="906" width="2" height="25" fill="#008000"/>
<rect x="295" y="894" width="2" height="37" fill="#ff0000"/>
<rect x="307" y="879" width="2" height="52" fill="#008000"/>
<rect x="320" y="894" width="2" height="37" fill="#ff0000"/>
<rect x="332" y="905" width="2" height="26" fill="#008000"/>
<rect x="345" y="905" width="2" height="26" fill="#ff0000"/>
<rect x="357" y="912" width="2" height="19" fill="#008000"/>
<rect x="370" y="900" width="2" height="31" fill="#ff0000"/>
<rect x="382" y="899" width="2" height="32" fill="#ff0000"/>
<rect x="395" y="907" width="2" height="24" fill="#ff0000"/>
<rect x="407" y="904" width="2" height="27" fill="#ff0000"/>
<rect x="419" y="911" width="2" height="20" fill="#008000"/>
<rect x="432" y="907" width="2" height="24" fill="#ff0000"/>
<rect x="444" y="923" width="2" height="8" fill="#ff0000"/>
<rect x="457" y="917" width="2" height="14" fill="#ff0000"/>
<rect x="469" y="915" width="2" height="16" fill="#008000"/>
<rect x="482" y="914" width="2" height="17" fill="#ff0000"/>
<rect x="494" y="919" width="2" height="12" fill="#ff0000"/>
<rect x="507" y="910" width="2" height="21" fill="#ff0000"/>
<rect x="519" y="923" width="2" height="8" fill="#ff0000"/>
<rect x="532" y="922" width="2" height="9" fill="#ff0000"/>
<rect x="544" y="908" width="2" height="23" fill="#008000"/>
<rect x="556" y="926" width="2" height="5" fill="#ff0000"/>
<rect x="569" y="909" width="2" height="22" fill="#ff0000"/>
<rect x="581" y="921" width="2" height="10" fill="#ff0000"/>
<rect x="594" y="918" width="2" height="13" fill="#008000"/>
<rect x="606" y="919" width="2" height="12" fill="#ff0000"/>
<rect x="619" y="927" width="2" height="4" fill="#ff0000"/>
<rect x="631" y="900" width="2" height="31" fill="#008000"/>
<rect x="644" y="907" width="2" height="24" fill="#008000"/>
<rect x="656" y="889" width="2" height="42" fill="#ff0000"/>
<rect x="669" y="866" width="2" height="65" fill="#008000"/>
<rect x="681" y="903" width="2" height="28" fill="#008000"/>
<rect x="693" y="905" width="2" height="26" fill="#ff0000"/>
<rect x="706" y="909" width="2" height="22" fill="#008000"/>
<rect x="718" y="914" width="2" height="17" fill="#ff0000"/>
<rect x="731" y="919" width="2" height="12" fill="#ff0000"/>
<rect x="743" y="900" width="2" height="31" fill="#ff0000"/>
<rect x="756" y="842" width="2" height="89" fill="#008000"/>
<rect x="768" y="859" width="2" height="72" fill="#ff0000"/>
<rect x="781" y="902" width="2" height="29" fill="#ff0000"/>
<rect x="793" y="889" width="2" height="42" fill="#008000"/>
<rect x="805" y="900" width="2" height="31" fill="#ff0000"/>
<rect x="818" y="880" width="2" height="51" fill="#008000"/>
<rect x="830" y="843" width="2" height="88" fill="#008000"/>
<rect x="843" y="872" width="2" height="59" fill="#008000"/>
<rect x="855" y="889" width="2" height="42" fill="#ff0000"/>
<rect x="868" y="884" width="2" height="47" fill="#ff0000"/>
<rect x="880" y="889" width="2" height="42" fill="#ff0000"/>
<rect x="893" y="881" width="2" height="50" fill="#008000"/>
<rect x="905" y="870" width="2" height="61" fill="#008000"/>
<rect x="918" y="842" width="2" height="89" fill="#008000"/>
<rect x="930" y="861" width="2" height="70" fill="#ff0000"/>
<rect x="942" y="856" width="2" height="75" fill="#ff0000"/>
<rect x="955" y="869" width="2" height="62" fill="#008000"/>
<rect x="967" y="863" width="2" height="68" fill="#008000"/>
<rect x="980" y="869" width="2" height="62" fill="#ff0000"/>
<rect x="992" y="849" width="2" height="82" fill="#ff0000"/>
<rect x="1005" y="816" width="2" height="115" fill="#ff0000"/>
<rect x="1017" y="841" width="2" height="90" fill="#008000"/>
<rect x="1030" y="860" width="2" height="71" fill="#ff0000"/>
<rect x="1042" y="854" width="2" height="77" fill="#008000"/>
<rect x="1055" y="869" width="2" height="62" fill="#ff0000"/>
<rect x="1067" y="873" width="2" height="58" fill="#ff0000"/>
<rect x="1079" y="890" width="2" height="41" fill="#ff0000"/>
<rect x="1092" y="869" width="2" height="62" fill="#008000"/>
<rect x="1104" y="855" width="2" height="76" fill="#ff0000"/>
<rect x="1117" y="906" width="2" height="25" fill="#008000"/>
<rect x="1129" y="891" width="2" height="40" fill="#ff0000"/>
<rect x="1142" y="907" width="2" height="24" fill="#008000"/>
<rect x="1154" y="898" width="2" height="33" fill="#008000"/>
<rect x="1167" y="893" width="2" height="38" fill="#ff0000"/>
<rect x="1179" y="908" width="2" height="23" fill="#008000"/>
<rect x="1191" y="901" width="2" height="30" fill="#008000"/>
<rect x="1204" y="887" width="2" height="44" fill="#ff0000"/>
<rect x="1216" y="907" width="2" height="24" fill="#ff0000"/>
<rect x="1229" y="900" width="2" height="31" fill="#008000"/>
<rect x="1241" y="862" width="2" height="69" fill="#008000"/>
<rect x="1254" y="893" width="2" height="38" fill="#ff0000"/>
<rect x="1266" y="907" width="2" height="24" fill="#ff0000"/>
<rect x="1279" y="902" width="2" height="29" fill="#008000"/>
<rect x="1291" y="915" width="2" height="16" fill="#008000"/>
<rect x="1304" y="915" width="2" height="16" fill="#ff0000"/>
<rect x="1316" y="900" width="2" height="31" fill="#008000"/>
<rect x="1328" y="902" width="2" height="29" fill="#ff0000"/>
<rect x="1341" y="914" width="2" height="17" fill="#008000"/>
<rect x="1353" y="903" width="2" height="28" fill="#008000"/>
<rect x="1366" y="890" width="2" height="41" fill="#008000"/>
<rect x="1378" y="893" width="2" height="38" fill="#008000"/>
<rect x="1391" y="893" width="2" height="38" fill="#ff0000"/>
<rect x="1403" y="903" width="2" height="28" fill="#ff0000"/>
<rect x="1416" y="816" width="2" height="115" fill="#008000"/>
<rect x="1428" y="881" width="2" height="50" fill="#ff0000"/>
<rect x="1441" y="871" width="2" height="60" fill="#008000"/>
<rect x="1453" y="902" width="2" height="29" fill="#008000"/>
<rect x="1465" y="863" width="2" height="68" fill="#008000"/>
<rect x="1478" y="831" width="2" height="100" fill="#008000"/>
<rect x="1490" y="836" width="2" height="95" fill="#ff0000"/>
<rect x="1503" y="872" width="2" height="59" fill="#ff0000"/>
<rect x="1515" y="852" width="2" height="79" fill="#008000"/>
<rect x="1528" y="866" width="2" height="65" fill="#ff0000"/>
<rect x="1540" y="882" width="2" height="49" fill="#008000"/>
<rect x="1553" y="767" width="2" height="164" fill="#ff0000"/>
<rect x="1565" y="763" width="2" height="168" fill="#ff0000"/>
<rect x="1577" y="868" width="2" height="63" fill="#ff0000"/>
<rect x="1590" y="883" width="2" height="48" fill="#008000"/>
<rect x="1602" y="865" width="2" height="66" fill="#008000"/>
<rect x="1615" y="812" width="2" height="119" fill="#008000"/>
<rect x="1627" y="870" width="2" height="61" fill="#ff0000"/>
<rect x="1640" y="846" width="2" height="85" fill="#ff0000"/>
<rect x="1652" y="824" width="2" height="107" fill="#008000"/>
<rect x="1665" y="895" width="2" height="36" fill="#008000"/>
<rect x="1677" y="719" width="2" height="212" fill="#ff0000"/>
<rect x="1690" y="774" width="2" height="157" fill="#008000"/>
<polyline points="8.9,901.9 21.4,901.9 33.8,901.9 46.3,901.9 58.7,901.9 71.2,902.0 83.6,902.0 96.1,902.0 108.5,902.0 121.0,902.0 133.4,902.4 145.9,903.1 158.3,903.6 170.8,903.9 183.2,903.7 195.7,903.6 208.1,903.4 220.6,903.2 233.0,903.0 245.5,902.7 257.9,902.3 270.4,901.3 282.8,901.1 295.3,901.0 307.7,900.8 320.2,901.4 332.7,902.2 345.1,901.8 357.6,901.4 370.0,901.0 382.5,901.2 394.9,901.4 407.4,901.6 419.8,901.8 432.3,902.0 444.7,902.3 457.2,902.7 469.6,903.0 482.1,903.2 494.5,903.5 507.0,903.8 519.4,904.0 531.9,904.1 544.3,904.3 556.8,904.4 569.2,904.6 581.7,904.7 594.1,904.9 606.6,905.0 619.0,904.7 631.5,904.4 643.9,904.1 656.4,903.8 668.9,904.3 681.3,904.8 693.8,905.7 706.2,906.3 718.7,906.8 731.1,906.1 743.6,905.4 756.0,904.9 768.5,904.7 780.9,904.1 793.4,903.4 805.8,902.5 818.3,901.3 830.7,900.6 843.2,900.5 855.6,900.3 868.1,900.1 880.5,900.0 893.0,899.8 905.4,899.6 917.9,899.3 930.3,899.1 942.8,898.3 955.2,897.6 967.7,896.8 980.1,896.1 992.6,895.3 1005.1,894.2 1017.5,892.8 1030.0,891.7 1042.4,890.6 1054.9,889.5 1067.3,888.3 1079.8,887.2 1092.2,886.3 1104.7,885.4 1117.1,884.7 1129.6,884.0 1142.0,883.7 1154.5,883.4 1166.9,883.0 1179.4,882.5 1191.8,882.0 1204.3,881.5 1216.7,881.1 1229.2,880.7 1241.6,880.4 1254.1,880.1 1266.5,880.3 1279.0,880.8 1291.4,881.6 1303.9,881.2 1316.3,880.7 1328.8,880.9 1341.2,881.1 1353.7,881.4 1366.2,881.6 1378.6,882.0 1391.1,882.5 1403.5,881.9 1416.0,881.5 1428.4,881.6 1440.9,881.6 1453.3,881.3 1465.8,880.8 1478.2,880.3 1490.7,879.8 1503.1,879.4 1515.6,879.0 1528.0,878.5 1540.5,877.8 1552.9,876.6 1565.4,875.1 1577.8,875.2 1590.3,875.4 1602.7,875.4 1615.2,875.4 1627.6,875.4 1640.1,875.4 1652.5,875.4 1665.0,875.4 1677.4,873.2 1689.9,871.7" fill="none" stroke="#000000" stroke-width="2" stroke-linejoin="round" shape-rendering="crispEdges" />
<rect x="4" y="684" width="1824" height="1" fill="#000"/>
<rect x="4" y="701" width="1884" height="1" fill="#000"/>
<rect x="1827" y="2" width="1" height="934" fill="#000"/>
<rect x="1828" y="671" width="4" height="1" fill="#000"/>
<text x="1883.5" y="675" font-family="Liberation Sans, sans-serif" font-size="12" fill="#000" text-anchor="end">2.6</text>
<rect x="1828" y="608" width="4" height="1" fill="#000"/>
<text x="1883.5" y="612" font-family="Liberation Sans, sans-serif" font-size="12" fill="#000" text-anchor="end">2.8</text>
<rect x="1828" y="549" width="4" height="1" fill="#000"/>
<text x="1883.5" y="553" font-family="Liberation Sans, sans-serif" font-size="12" fill="#000" text-anchor="end">3.0</text>
<rect x="1828" y="494" width="4" height="1" fill="#000"/>
<text x="1883.5" y="498" font-family="Liberation Sans, sans-serif" font-size="12" fill="#000" text-anchor="end">3.2</text>
<rect x="1828" y="443" width="4" height="1" fill="#000"/>
<text x="1883.5" y="447" font-family="Liberation Sans, sans-serif" font-size="12" fill="#000" text-anchor="end">3.4</text>
<rect x="1828" y="394" width="4" height="1" fill="#000"/>
<text x="1883.5" y="398" font-family="Liberation Sans, sans-serif" font-size="12" fill="#000" text-anchor="end">3.6</text>
<rect x="1828" y="349" width="4" height="1" fill="#000"/>
<text x="1883.5" y="353" font-family="Liberation Sans, sans-serif" font-size="12" fill="#000" text-anchor="end">3.8</text>
<rect x="1828" y="305" width="4" height="1" fill="#000"/>
<text x="1883.5" y="309" font-family="Liberation Sans, sans-serif" font-size="12" fill="#000" text-anchor="end">4.0</text>
<rect x="1828" y="264" width="4" height="1" fill="#000"/>
<text x="1883.5" y="268" font-family="Liberation Sans, sans-serif" font-size="12" fill="#000" text-anchor="end">4.2</text>
<rect x="1828" y="224" width="4" height="1" fill="#000"/>
<text x="1883.5" y="228" font-family="Liberation Sans, sans-serif" font-size="12" fill="#000" text-anchor="end">4.4</text>
<rect x="1828" y="186" width="4" height="1" fill="#000"/>
<text x="1883.5" y="190" font-family="Liberation Sans, sans-serif" font-size="12" fill="#000" text-anchor="end">4.6</text>
<rect x="1828" y="150" width="4" height="1" fill="#000"/>
<text x="1883.5" y="154" font-family="Liberation Sans, sans-serif" font-size="12" fill="#000" text-anchor="end">4.8</text>
<rect x="1828" y="116" width="4" height="1" fill="#000"/>
<text x="1883.5" y="120" font-family="Liberation Sans, sans-serif" font-size="12" fill="#000" text-anchor="end">5.0</text>
<rect x="1828" y="82" width="4" height="1" fill="#000"/>
<text x="1883.5" y="86" font-family="Liberation Sans, sans-serif" font-size="12" fill="#000" text-anchor="end">5.2</text>
<rect x="1828" y="50" width="4" height="1" fill="#000"/>
<text x="1883.5" y="54" font-family="Liberation Sans, sans-serif" font-size="12" fill="#000" text-anchor="end">5.4</text>
<rect x="1828" y="19" width="4" height="1" fill="#000"/>
<text x="1883.5" y="23" font-family="Liberation Sans, sans-serif" font-size="12" fill="#000" text-anchor="end">5.6</text>
<rect x="1828" y="910" width="4" height="1" fill="#000"/>
<text x="1883.5" y="914" font-family="Liberation Sans, sans-serif" font-size="12" fill="#000" text-anchor="end">2M</text>
<rect x="1828" y="880" width="4" height="1" fill="#000"/>
<text x="1883.5" y="884" font-family="Liberation Sans, sans-serif" font-size="12" fill="#000" text-anchor="end">4M</text>
<rect x="1828" y="850" width="4" height="1" fill="#000"/>
<text x="1883.5" y="854" font-family="Liberation Sans, sans-serif" font-size="12" fill="#000" text-anchor="end">6M</text>
<rect x="1828" y="820" width="4" height="1" fill="#000"/>
<text x="1883.5" y="824" font-family="Liberation Sans, sans-serif" font-size="12" fill="#000" text-anchor="end">8M</text>
<rect x="1828" y="790" width="4" height="1" fill="#000"/>
<text x="1883.5" y="794" font-family="Liberation Sans, sans-serif" font-size="12" fill="#000" text-anchor="end">10M</text>
<rect x="1828" y="760" width="4" height="1" fill="#000"/>
<text x="1883.5" y="764" font-family="Liberation Sans, sans-serif" font-size="12" fill="#000" text-anchor="end">12M</text>
<rect x="1828" y="730" width="4" height="1" fill="#000"/>
<text x="1883.5" y="734" font-family="Liberation Sans, sans-serif" font-size="12" fill="#000" text-anchor="end">14M</text>
<rect x="1835" y="29" width="32" height="15" fill="#00ff00"/><text x="1851.5" y="41" font-family="Liberation Sans, sans-serif" font-size="12" fill="#000" text-anchor="middle">5.39</text>
<path d="M1828,51.5 L1835,44 L1867,44 L1867,59 L1835,59 Z" fill="#000000"/><text x="1851.5" y="56" font-family="Liberation Sans, sans-serif" font-size="12" fill="#fff" text-anchor="middle">5.39</text>
<rect x="1835" y="143" width="39" height="15" fill="#000000"/><text x="1855.0" y="155" font-family="Liberation Sans, sans-serif" font-size="12" fill="#fff" text-anchor="middle">4.802</text>
<rect x="1835" y="202" width="39" height="15" fill="#008000"/><text x="1855.0" y="214" font-family="Liberation Sans, sans-serif" font-size="12" fill="#fff" text-anchor="middle">4.478</text>
<rect x="1835" y="281" width="39" height="15" fill="#ff0000"/><text x="1855.0" y="293" font-family="Liberation Sans, sans-serif" font-size="12" fill="#000" text-anchor="middle">4.079</text>
<rect x="1835" y="296" width="39" height="15" fill="#ff0000"/><text x="1855.0" y="308" font-family="Liberation Sans, sans-serif" font-size="12" fill="#000" text-anchor="middle">4.079</text>
<rect x="1835" y="408" width="39" height="15" fill="#0000ff"/><text x="1855.0" y="420" font-family="Liberation Sans, sans-serif" font-size="12" fill="#fff" text-anchor="middle">3.514</text>
<rect x="1835" y="423" width="39" height="15" fill="#ff0000"/><text x="1855.0" y="435" font-family="Liberation Sans, sans-serif" font-size="12" fill="#000" text-anchor="middle">3.514</text>
<rect x="1835" y="524" width="53" height="15" fill="#00ff00"/><text x="1862.0" y="536" font-family="Liberation Sans, sans-serif" font-size="12" fill="#000" text-anchor="middle">3.06427</text>
<rect x="1835" y="548" width="53" height="15" fill="#800080"/><text x="1862.0" y="560" font-family="Liberation Sans, sans-serif" font-size="12" fill="#fff" text-anchor="middle">2.98115</text>
<rect x="1835" y="563" width="53" height="15" fill="#ff00ff"/><text x="1862.0" y="575" font-family="Liberation Sans, sans-serif" font-size="12" fill="#000" text-anchor="middle">2.98115</text>
<path d="M1828,774.5 L1835,767 L1888,767 L1888,782 L1835,782 Z" fill="#008000"/><text x="1862.0" y="779" font-family="Liberation Sans, sans-serif" font-size="12" fill="#fff" text-anchor="middle">11,066,40</text>
<rect x="1835" y="864" width="53" height="15" fill="#000000"/><text x="1862.0" y="876" font-family="Liberation Sans, sans-serif" font-size="12" fill="#fff" text-anchor="middle">4,588,084</text>
<rect x="33" y="685" width="1" height="5" fill="#000"/>
<text x="36" y="696" font-family="Liberation Sans, sans-serif" font-size="12" font-weight="bold" fill="#000">Oct</text>
<rect x="58" y="685" width="1" height="5" fill="#000"/>
<text x="61" y="696" font-family="Liberation Sans, sans-serif" font-size="12" fill="#000">5</text>
<rect x="121" y="685" width="1" height="5" fill="#000"/>
<text x="124" y="696" font-family="Liberation Sans, sans-serif" font-size="12" fill="#000">12</text>
<rect x="183" y="685" width="1" height="5" fill="#000"/>
<text x="186" y="696" font-family="Liberation Sans, sans-serif" font-size="12" fill="#000">19</text>
<rect x="245" y="685" width="1" height="5" fill="#000"/>
<text x="248" y="696" font-family="Liberation Sans, sans-serif" font-size="12" fill="#000">26</text>
<rect x="307" y="685" width="1" height="5" fill="#000"/>
<text x="310" y="696" font-family="Liberation Sans, sans-serif" font-size="12" font-weight="bold" fill="#000">Nov</text>
<rect x="370" y="685" width="1" height="5" fill="#000"/>
<text x="373" y="696" font-family="Liberation Sans, sans-serif" font-size="12" fill="#000">9</text>
<rect x="432" y="685" width="1" height="5" fill="#000"/>
<text x="435" y="696" font-family="Liberation Sans, sans-serif" font-size="12" fill="#000">16</text>
<rect x="494" y="685" width="1" height="5" fill="#000"/>
<text x="497" y="696" font-family="Liberation Sans, sans-serif" font-size="12" fill="#000">23</text>
<text x="572" y="696" font-family="Liberation Sans, sans-serif" font-size="12" font-weight="bold" fill="#000">Dec</text>
<rect x="619" y="685" width="1" height="5" fill="#000"/>
<text x="622" y="696" font-family="Liberation Sans, sans-serif" font-size="12" fill="#000">7</text>
<rect x="681" y="685" width="1" height="5" fill="#000"/>
<text x="684" y="696" font-family="Liberation Sans, sans-serif" font-size="12" fill="#000">14</text>
<rect x="743" y="685" width="1" height="5" fill="#000"/>
<text x="746" y="696" font-family="Liberation Sans, sans-serif" font-size="12" fill="#000">21</text>
<rect x="805" y="685" width="1" height="5" fill="#000"/>
<text x="808" y="696" font-family="Liberation Sans, sans-serif" font-size="12" fill="#000">28</text>
<rect x="855" y="685" width="1" height="5" fill="#000"/>
<text x="858" y="696" font-family="Liberation Sans, sans-serif" font-size="12" font-weight="bold" fill="#000">2021</text>
<rect x="918" y="685" width="1" height="5" fill="#000"/>
<text x="921" y="696" font-family="Liberation Sans, sans-serif" font-size="12" fill="#000">11</text>
<rect x="980" y="685" width="1" height="5" fill="#000"/>
<text x="983" y="696" font-family="Liberation Sans, sans-serif" font-size="12" fill="#000">18</text>
<rect x="1042" y="685" width="1" height="5" fill="#000"/>
<text x="1045" y="696" font-family="Liberation Sans, sans-serif" font-size="12" fill="#000">25</text>
<rect x="1104" y="685" width="1" height="5" fill="#000"/>
<text x="1107" y="696" font-family="Liberation Sans, sans-serif" font-size="12" font-weight="bold" fill="#000">Feb</text>
<rect x="1167" y="685" width="1" height="5" fill="#000"/>
<text x="1170" y="696" font-family="Liberation Sans, sans-serif" font-size="12" fill="#000">8</text>
<rect x="1229" y="685" width="1" height="5" fill="#000"/>
<text x="1232" y="696" font-family="Liberation Sans, sans-serif" font-size="12" fill="#000">22</text>
<rect x="1291" y="685" width="1" height="5" fill="#000"/>
<text x="1294" y="696" font-family="Liberation Sans, sans-serif" font-size="12" font-weight="bold" fill="#000">Mar</text>
<rect x="1353" y="685" width="1" height="5" fill="#000"/>
<text x="1356" y="696" font-family="Liberation Sans, sans-serif" font-size="12" fill="#000">8</text>
<rect x="1416" y="685" width="1" height="5" fill="#000"/>
<text x="1419" y="696" font-family="Liberation Sans, sans-serif" font-size="12" fill="#000">15</text>
<rect x="1478" y="685" width="1" height="5" fill="#000"/>
<text x="1481" y="696" font-family="Liberation Sans, sans-serif" font-size="12" fill="#000">22</text>
<rect x="1540" y="685" width="1" height="5" fill="#000"/>
<text x="1543" y="696" font-family="Liberation Sans, sans-serif" font-size="12" fill="#000">29</text>
<rect x="1577" y="685" width="1" height="5" fill="#000"/>
<text x="1580" y="696" font-family="Liberation Sans, sans-serif" font-size="12" font-weight="bold" fill="#000">Apr</text>
<rect x="1602" y="685" width="1" height="5" fill="#000"/>
<text x="1605" y="696" font-family="Liberation Sans, sans-serif" font-size="12" fill="#000">5</text>
<rect x="1665" y="685" width="1" height="5" fill="#000"/>
<text x="1668" y="696" font-family="Liberation Sans, sans-serif" font-size="12" fill="#000">12</text>
<rect x="8" y="2" width="1357" height="15" fill="#ffffff"/>
<text x="8.5" y="14" font-family="Liberation Sans, sans-serif" font-size="12" xml:space="preserve" textLength="477.6" lengthAdjust="spacingAndGlyphs"><tspan fill="#000">HAI - Daily 4/2/2021 Open 3.85, Hi 4.09, Lo 3.85, Close 3.94 (1.0%) MA(Close,5) = 3.89, </tspan></text>
<text x="486.1" y="14" font-family="Liberation Sans, sans-serif" font-size="12" xml:space="preserve" textLength="123.0" lengthAdjust="spacingAndGlyphs"><tspan fill="#0000ff">MA1(Close,50)</tspan><tspan fill="#000"> = 3.32, </tspan></text>
<text x="609.1" y="14" font-family="Liberation Sans, sans-serif" font-size="12" xml:space="preserve" textLength="131.6" lengthAdjust="spacingAndGlyphs"><tspan fill="#00e000">MA2(Close,150)</tspan><tspan fill="#000"> = 2.96, </tspan></text>
<text x="740.7" y="14" font-family="Liberation Sans, sans-serif" font-size="12" xml:space="preserve" textLength="130.3" lengthAdjust="spacingAndGlyphs"><tspan fill="#ff00ff">MA3(Close,200)</tspan><tspan fill="#000"> = 2.94, </tspan></text>
<text x="871" y="14" font-family="Liberation Sans, sans-serif" font-size="12" xml:space="preserve" textLength="124.4" lengthAdjust="spacingAndGlyphs"><tspan fill="#ff0000">MA4(Close,20)</tspan><tspan fill="#000"> = 3.58, </tspan></text>
<text x="995.4" y="14" font-family="Liberation Sans, sans-serif" font-size="12" xml:space="preserve" textLength="75.3" lengthAdjust="spacingAndGlyphs"><tspan fill="#00e000">Close</tspan><tspan fill="#000"> = 3.94, </tspan></text>
<text x="1070.7" y="14" font-family="Liberation Sans, sans-serif" font-size="12" xml:space="preserve" textLength="74.0" lengthAdjust="spacingAndGlyphs"><tspan fill="#008000">MA10</tspan><tspan fill="#000"> = 3.76, </tspan></text>
<text x="1144.7" y="14" font-family="Liberation Sans, sans-serif" font-size="12" xml:space="preserve" textLength="72.8" lengthAdjust="spacingAndGlyphs"><tspan fill="#ff0000">MA20</tspan><tspan fill="#000"> = 3.58, </tspan></text>
<text x="1217.5" y="14" font-family="Liberation Sans, sans-serif" font-size="12" xml:space="preserve" textLength="80.4" lengthAdjust="spacingAndGlyphs"><tspan fill="#800080">MA200</tspan><tspan fill="#000"> = 2.94, </tspan></text>
<text x="1297.9" y="14" font-family="Liberation Sans, sans-serif" font-size="12" xml:space="preserve" textLength="65.7" lengthAdjust="spacingAndGlyphs"><tspan fill="#ff0000">MA50</tspan><tspan fill="#000"> = 3.32</tspan></text>
<rect x="8" y="703" width="330" height="15" fill="#ffffff"/>
<text x="8.6" y="715" font-family="Liberation Sans, sans-serif" font-size="12" fill="#000" xml:space="preserve" textLength="28.3" lengthAdjust="spacingAndGlyphs">HAI - </text>
<text x="36.9" y="715" font-family="Liberation Sans, sans-serif" font-size="12" fill="#008000" xml:space="preserve" textLength="41.5" lengthAdjust="spacingAndGlyphs">Volume</text>
<text x="78.4" y="715" font-family="Liberation Sans, sans-serif" font-size="12" fill="#000" xml:space="preserve" textLength="259.0" lengthAdjust="spacingAndGlyphs"> = 3,808,100.00, MA(Volume,50) = 4,287,998.00</text>
<rect x="4" y="936" width="1884" height="17" fill="#f0f0f0"/>
<rect x="4.5" y="936.5" width="15" height="16" fill="#f0f0f0" stroke="#a8a8a8" stroke-width="1"/>
<rect x="19.5" y="936.5" width="16" height="16" fill="#f0f0f0" stroke="#a8a8a8" stroke-width="1"/>
<rect x="35.5" y="936.5" width="16" height="16" fill="#f0f0f0" stroke="#a8a8a8" stroke-width="1"/>
<rect x="51.5" y="936.5" width="16" height="16" fill="#f0f0f0" stroke="#a8a8a8" stroke-width="1"/>
<path d="M9,940 h1.2 v9 h-1.2 z M16,940 v9 l-4.8,-4.5 z" fill="#6a6a6a"/>
<path d="M32,940 v9 l-4.8,-4.5 z" fill="#6a6a6a"/>
<path d="M41,940 v9 l5,-4.5 z" fill="#000"/>
<path d="M57,940 v9 l5,-4.5 z M63,940 h1.3 v9 h-1.3 z" fill="#000"/>
<path d="M117,936.5 L124,952.5 L149,952.5 L156,936.5" fill="#ececec" stroke="#9a9a9a" stroke-width="1"/>
<text x="126.4" y="947.6" font-family="Liberation Sans, sans-serif" font-size="12" fill="#6a6a78" textLength="19" lengthAdjust="spacingAndGlyphs">Day</text>
<path d="M149.5,936.5 L156.5,952.5 L201,952.5 L208,936.5" fill="#ececec" stroke="#9a9a9a" stroke-width="1"/>
<text x="161" y="947.6" font-family="Liberation Sans, sans-serif" font-size="12" fill="#6a6a78" textLength="37.7" lengthAdjust="spacingAndGlyphs">Sheet 3</text>
<path d="M201,936.5 L208,952.5 L254,952.5 L261,936.5" fill="#ececec" stroke="#9a9a9a" stroke-width="1"/>
<text x="213.7" y="947.6" font-family="Liberation Sans, sans-serif" font-size="12" fill="#6a6a78" textLength="37.9" lengthAdjust="spacingAndGlyphs">Sheet 4</text>
<path d="M254,936.5 L261,952.5 L307,952.5 L314,936.5" fill="#ececec" stroke="#9a9a9a" stroke-width="1"/>
<text x="267" y="947.6" font-family="Liberation Sans, sans-serif" font-size="12" fill="#6a6a78" textLength="37.8" lengthAdjust="spacingAndGlyphs">Sheet 5</text>
<path d="M307,936.5 L314,952.5 L360,952.5 L367,936.5" fill="#ececec" stroke="#9a9a9a" stroke-width="1"/>
<text x="319.6" y="947.6" font-family="Liberation Sans, sans-serif" font-size="12" fill="#6a6a78" textLength="38.3" lengthAdjust="spacingAndGlyphs">Sheet 6</text>
<path d="M360,936.5 L367,952.5 L413,952.5 L420,936.5" fill="#ececec" stroke="#9a9a9a" stroke-width="1"/>
<text x="372.9" y="947.6" font-family="Liberation Sans, sans-serif" font-size="12" fill="#6a6a78" textLength="38.3" lengthAdjust="spacingAndGlyphs">Sheet 7</text>
<path d="M413,936.5 L420,952.5 L469,952.5 L476,936.5" fill="#ececec" stroke="#9a9a9a" stroke-width="1"/>
<text x="426.2" y="947.6" font-family="Liberation Sans, sans-serif" font-size="12" fill="#6a6a78" textLength="37.8" lengthAdjust="spacingAndGlyphs">Sheet 8</text>
<path d="M68.5,936 L75.6,952.5 L115.8,952.5 L122.6,936" fill="#ffffff" stroke="#9a9a9a" stroke-width="1"/>
<rect x="69.5" y="935.5" width="52" height="1.5" fill="#ffffff"/>
<text x="80.3" y="947.6" font-family="Liberation Sans, sans-serif" font-size="12" font-weight="bold" fill="#000" textLength="30.4" lengthAdjust="spacingAndGlyphs">Chính</text>
<rect x="477" y="936" width="16.5" height="16" fill="#efefef"/>
<rect x="493.5" y="936" width="1" height="17" fill="#a0a0a0"/>
<rect x="494" y="936" width="16.5" height="16" fill="#efefef"/>
<rect x="510.5" y="936" width="1" height="17" fill="#a0a0a0"/>
<rect x="511" y="936" width="16.5" height="16" fill="#efefef"/>
<rect x="527.5" y="936" width="1" height="17" fill="#a0a0a0"/>
<rect x="477" y="952" width="51" height="1" fill="#a0a0a0"/>
<rect x="482" y="943.5" width="7" height="4.5" fill="#000"/><path d="M484,943.5 v-2 a2.2,2.2 0 0 1 4.4,0 v0.6" fill="none" stroke="#000" stroke-width="1.3"/>
<path d="M496.9,945.6 l2.6,-2.8 l2.6,2.8 z M515,945.6 l2.6,-2.8 l2.6,2.8 z" fill="#000"/>
<text x="502.3" y="947.8" font-family="Liberation Sans, sans-serif" font-size="10" fill="#000">S</text>
<path d="M520.8,941.2 h3 M522.3,941.2 v6.6 M520.8,947.8 h3" fill="none" stroke="#000" stroke-width="1"/>
<path d="M539,941.2 l-4.8,3.3 l4.8,3.3" fill="none" stroke="#555" stroke-width="1.8"/>
<rect x="1817" y="937" width="54" height="15" fill="#cccccc"/>
<path d="M1877.5,940.5 l4,3.5 l-4,3.5" fill="none" stroke="#404040" stroke-width="1.8"/>
</svg>
</body></html>
